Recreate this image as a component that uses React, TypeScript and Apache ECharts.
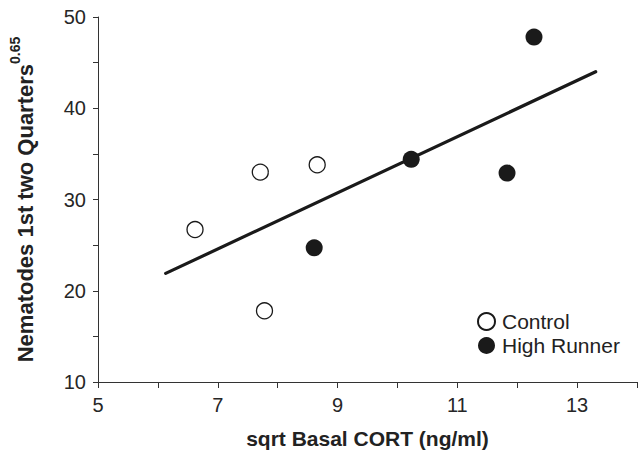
import React, { useEffect, useRef } from "react";
import * as echarts from "echarts";

const controlX = [6.62, 7.71, 8.66, 7.78];
const controlY = [26.7, 33.0, 33.8, 17.8];
const runnerX = [8.61, 10.23, 11.83, 12.28];
const runnerY = [24.7, 34.4, 32.9, 47.8];
const fitX = [6.13, 13.31];
const fitY = [21.9, 44.0];
const xTickLabels = [5, 7, 9, 11, 13];
const yTickLabels = [10, 20, 30, 40, 50];

const FONT = "Liberation Sans, Arial, sans-serif";

export default function App() {
  const ref = useRef<HTMLDivElement>(null);
  useEffect(() => {
    if (!ref.current) return;
    const chart = echarts.init(ref.current, undefined, { renderer: "svg" });
    chart.setOption({
      animation: false,
      backgroundColor: "#ffffff",
      textStyle: { fontFamily: FONT },
      grid: { left: 92, right: 5, top: 17, bottom: 69, containLabel: false },
      legend: {
        orient: "vertical",
        left: 472,
        top: 306,
        itemWidth: 17,
        itemHeight: 17,
        itemGap: 3,
        data: [
          { name: "Control", icon: "circle" },
          { name: "High Runner", icon: "circle" },
        ],
        textStyle: { fontFamily: FONT, fontSize: 21, color: "#222", padding: [0, 0, 0, 2] },
      },
      xAxis: {
        type: "value",
        min: 5,
        max: 14,
        interval: 1,
        splitLine: { show: false },
        axisLine: { lineStyle: { color: "#333", width: 1 } },
        axisTick: { length: 6, lineStyle: { color: "#333" } },
        axisLabel: {
          fontFamily: FONT,
          fontSize: 20,
          color: "#262626",
          margin: 13,
          formatter: (v: number) => (xTickLabels.includes(v) ? String(v) : ""),
        },
        name: "sqrt Basal CORT (ng/ml)",
        nameLocation: "middle",
        nameGap: 46,
        nameTextStyle: { fontFamily: FONT, fontSize: 21, fontWeight: "bold", color: "#222" },
      },
      yAxis: {
        type: "value",
        min: 10,
        max: 50,
        interval: 10,
        splitLine: { show: false },
        axisLine: { show: true, lineStyle: { color: "#333", width: 1 } },
        axisTick: { show: true, length: 5, lineStyle: { color: "#333" } },
        minorTick: { show: true, splitNumber: 2, length: 5, lineStyle: { color: "#333" } },
        axisLabel: {
          fontFamily: FONT,
          fontSize: 20,
          color: "#262626",
          margin: 12,
          formatter: (v: number) => (yTickLabels.includes(v) ? String(v) : ""),
        },
        name: "{a|Nematodes 1st two Quarters}{b|0.65}",
        nameLocation: "middle",
        nameGap: 62,
        nameRotate: 90,
        nameTextStyle: {
          fontFamily: FONT,
          fontSize: 22,
          fontWeight: "bold",
          color: "#222",
          rich: {
            a: { fontFamily: FONT, fontSize: 22, fontWeight: "bold", color: "#222", lineHeight: 28, verticalAlign: "bottom" },
            b: { fontFamily: FONT, fontSize: 14, fontWeight: "bold", color: "#222", lineHeight: 28, verticalAlign: "top" },
          },
        },
      },
      series: [
        {
          name: "Fit",
          type: "line",
          data: fitX.map((x, i) => [x, fitY[i]]),
          symbol: "none",
          lineStyle: { color: "#1a1a1a", width: 3.2, cap: "round" },
          z: 1,
        },
        {
          name: "Control",
          type: "scatter",
          data: controlX.map((x, i) => [x, controlY[i]]),
          symbol: "circle",
          symbolSize: 16,
          itemStyle: { color: "#ffffff", borderColor: "#1a1a1a", borderWidth: 1.3, opacity: 1 },
          z: 3,
        },
        {
          name: "High Runner",
          type: "scatter",
          data: runnerX.map((x, i) => [x, runnerY[i]]),
          symbol: "circle",
          symbolSize: 17,
          itemStyle: { color: "#1a1a1a", opacity: 1 },
          z: 3,
        },
      ],
    });
    return () => chart.dispose();
  }, []);
  return <div ref={ref} style={{ width: 642, height: 454, position: "absolute", left: 0, top: 0 }} />;
}
